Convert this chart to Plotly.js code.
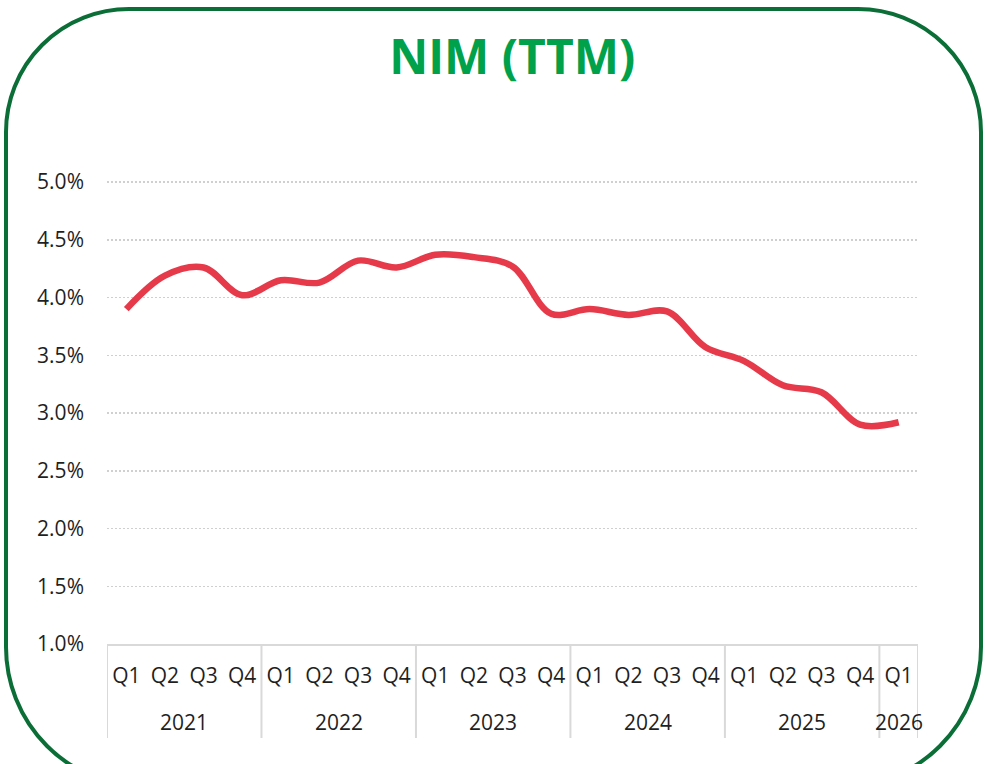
<!DOCTYPE html>
<html>
<head>
<meta charset="utf-8">
<script src="https://cdn.plot.ly/plotly-3.0.1.min.js"></script>
<style>
  html, body { margin: 0; padding: 0; width: 985px; height: 764px; overflow: hidden; background: #ffffff; }
  #frame { position: absolute; left: 4px; top: 7px; width: 971px; height: 774px;
           border: 4px solid #0b6e37; border-radius: 125px 125px 142px 142px; box-sizing: content-box; }
  #chart { position: absolute; left: 0; top: 0; width: 985px; height: 764px; }
</style>
</head>
<body>
<div id="frame"></div>
<div id="chart"></div>
<script>
// ---- data ----
const years = ['2021','2021','2021','2021','2022','2022','2022','2022','2023','2023','2023','2023',
               '2024','2024','2024','2024','2025','2025','2025','2025','2026'];
const quarters = ['Q1','Q2','Q3','Q4','Q1','Q2','Q3','Q4','Q1','Q2','Q3','Q4',
                  'Q1','Q2','Q3','Q4','Q1','Q2','Q3','Q4','Q1'];
const nimTTM = [0.0390, 0.0419, 0.0426, 0.0402, 0.0415, 0.0413, 0.0432, 0.0426,
                0.0437, 0.0435, 0.0427, 0.0386, 0.0390, 0.0385, 0.0388, 0.0357,
                0.0345, 0.0324, 0.0318, 0.0290, 0.0292];
const yTicks = [0.010, 0.015, 0.020, 0.025, 0.030, 0.035, 0.040, 0.045, 0.050];
const chartTitle = 'NIM (TTM)';

// positions along the category axis (one slot per quarter)
const idx = quarters.map((q, i) => i);

// year groups derived from the years array
const groups = [];
years.forEach((y, i) => {
  const g = groups[groups.length - 1];
  if (g && g.year === y) { g.end = i; } else { groups.push({ year: y, start: i, end: i }); }
});

const tickFont = { family: 'Open Sans, sans-serif', size: 21, color: '#1f1f1f' };
const sepColor = '#d9d9d9';

const trace = {
  type: 'scatter',
  mode: 'lines',
  x: idx,
  y: nimTTM,
  line: { color: '#e63a4a', width: 6.5, shape: 'spline', smoothing: 1 },
  hoverinfo: 'y'
};

const annotations = groups.map(g => ({
  text: g.year,
  x: (g.start + g.end) / 2, xref: 'x',
  y: 0, yref: 'paper',
  yanchor: 'middle', xanchor: 'center',
  yshift: -78,
  showarrow: false,
  font: tickFont
}));

const boundaries = [groups[0].start - 0.5].concat(groups.map(g => g.end + 0.5));
const shapes = boundaries.map(b => ({
  type: 'line', xref: 'x', x0: b, x1: b,
  yref: 'paper', ysizemode: 'pixel', yanchor: 0, y0: 0, y1: -94,
  line: { color: sepColor, width: 2 }
}));

const layout = {
  width: 985, height: 764,
  paper_bgcolor: 'rgba(0,0,0,0)',
  plot_bgcolor: 'rgba(0,0,0,0)',
  margin: { l: 107, r: 67, t: 180, b: 120 },
  showlegend: false,
  font: { family: 'Open Sans, sans-serif', size: 21, color: '#1f1f1f' },
  title: {
    text: chartTitle,
    font: { family: 'Open Sans, sans-serif', size: 48, color: '#00a14b', weight: 'bold' },
    x: 0.52, xref: 'container', xanchor: 'center',
    y: 0.925, yref: 'container', yanchor: 'middle'
  },
  xaxis: {
    range: [-0.5, quarters.length - 0.5],
    tickvals: idx, ticktext: quarters,
    showgrid: false, zeroline: false,
    showline: true, linecolor: sepColor, linewidth: 2,
    ticks: 'outside', ticklen: 12, tickcolor: 'rgba(0,0,0,0)',
    tickfont: tickFont, tickangle: 0, fixedrange: true
  },
  yaxis: {
    range: [0.01, 0.05018],
    tickvals: yTicks,
    tickformat: '.1%',
    showgrid: true, gridcolor: '#d0d0d0', gridwidth: 1.5, griddash: '2px,2px',
    zeroline: false, showline: false,
    ticks: '', ticklabelstandoff: 22,
    tickfont: tickFont,
    fixedrange: true
  },
  annotations: annotations,
  shapes: shapes
};

Plotly.newPlot('chart', [trace], layout, { displayModeBar: false, staticPlot: true });
</script>
</body>
</html>
